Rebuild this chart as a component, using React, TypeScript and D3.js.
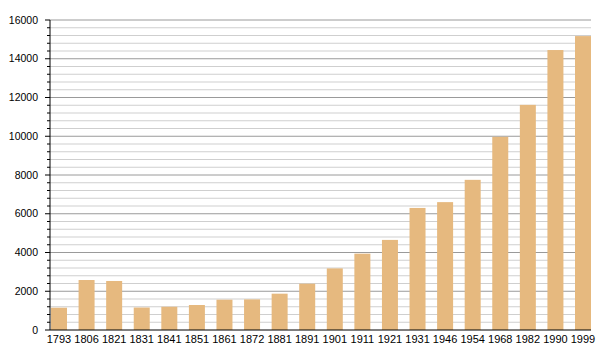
import React from "react";
import * as d3 from "d3";

const yearsAll = ["1793","1806","1821","1831","1841","1851","1861","1872","1881","1891","1901","1911","1921","1931","1946","1954","1968","1982","1990","1999"];
const population = [1150, 2580, 2530, 1160, 1200, 1290, 1565, 1580, 1875, 2390, 3180, 3940, 4650, 6300, 6600, 7750, 9970, 11620, 14450, 15170];
const yMajorTicks = [0, 2000, 4000, 6000, 8000, 10000, 12000, 14000, 16000];

export default function App() {
  const W = 600, H = 360;
  const left = 50, right = 591, top = 20, bottom = 330;
  const x = d3.scaleBand<string>().domain(yearsAll).range([left + 1, right]).paddingInner(0.42).paddingOuter(0);
  const y = d3.scaleLinear().domain([0, 16000]).range([bottom, top]);
  const minor = d3.range(0, 16001, 400);
  return (
    <svg width={W} height={H} style={{ position: "absolute", left: 0, top: 0 }} fontFamily="'Liberation Sans', Arial, sans-serif">
      {minor.map((v) => {
        const major = v % 2000 === 0;
        if (v === 0) return null;
        return (
          <line key={"g" + v} x1={left} x2={right} y1={y(v)} y2={y(v)} stroke={major ? "#9a9a9a" : "#cfcfcf"} strokeWidth={1} />
        );
      })}
      {population.map((v, i) => (
        <rect key={yearsAll[i]} x={x(yearsAll[i])} y={y(v)} width={x.bandwidth()} height={bottom - y(v)} fill="#e6b97f" />
      ))}
      {minor.map((v) => {
        const major = v % 2000 === 0;
        return <line key={"t" + v} x1={left - (major ? 5 : 3)} x2={left} y1={y(v)} y2={y(v)} stroke="#000" strokeWidth={1} />;
      })}
      <line x1={left} x2={left} y1={top} y2={bottom} stroke="#000" strokeWidth={1} />
      <line x1={left} x2={right} y1={bottom} y2={bottom} stroke="#000" strokeWidth={1} />
      {yMajorTicks.map((v) => (
        <text key={"l" + v} x={38} y={y(v)} dy="0.35em" textAnchor="end" fontSize={10.5} fill="#000">{v}</text>
      ))}
      {yearsAll.map((yr) => (
        <text key={"x" + yr} x={(x(yr) as number) + x.bandwidth() / 2} y={343} textAnchor="middle" fontSize={11} fill="#000">{yr}</text>
      ))}
    </svg>
  );
}
